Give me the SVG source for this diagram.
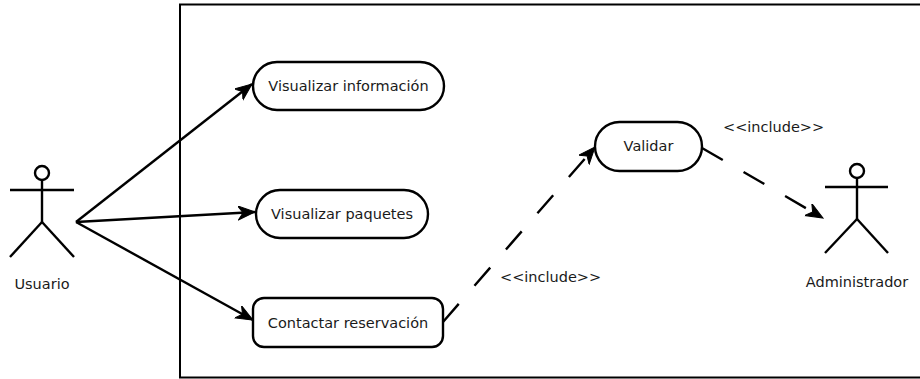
<svg xmlns="http://www.w3.org/2000/svg" width="920" height="379" viewBox="0 0 920 379">
  <style>
    .ln { fill: none; stroke: #000; stroke-width: 2.4; }
    .uc { fill: #fff; stroke: #000; stroke-width: 2.4; }
    .dash { fill: none; stroke: #000; stroke-width: 2.4; stroke-dasharray: 24 24; }
    text { font-family: "DejaVu Sans", Verdana, sans-serif; font-size: 14.5px; fill: #1a1a1a; }
    .c { text-anchor: middle; }
  </style>
  <defs>
    <marker id="arr" markerUnits="userSpaceOnUse" markerWidth="20" markerHeight="16" refX="17" refY="7" orient="auto">
      <path d="M0,0 L17,7 L0,14 L5,7 z" fill="#000" stroke="#000" stroke-width="1"/>
    </marker>
  </defs>
  <rect width="920" height="379" fill="#fff"/>
  <g id="system-boundary">
    <rect x="180" y="4.5" width="760" height="373" fill="none" stroke="#000" stroke-width="2"/>
  </g>
  <g id="connectors">
    <line class="ln" x1="76" y1="222" x2="252" y2="84" marker-end="url(#arr)"/>
    <line class="ln" x1="76" y1="222" x2="255" y2="212" marker-end="url(#arr)"/>
    <line class="ln" x1="76" y1="222" x2="253" y2="320" marker-end="url(#arr)"/>
    <line class="dash" x1="443" y1="322" x2="595" y2="147" marker-end="url(#arr)"/>
    <line class="dash" x1="702" y1="148" x2="823" y2="218" marker-end="url(#arr)"/>
    <text x="500" y="282">&lt;&lt;include&gt;&gt;</text>
    <text x="723" y="132">&lt;&lt;include&gt;&gt;</text>
  </g>
  <g id="actor-usuario">
    <circle class="ln" cx="42" cy="173" r="7"/>
    <line class="ln" x1="10" y1="190" x2="74" y2="190"/>
    <line class="ln" x1="42" y1="180" x2="42" y2="222"/>
    <line class="ln" x1="42" y1="222" x2="10" y2="257"/>
    <line class="ln" x1="42" y1="222" x2="74" y2="257"/>
    <text class="c" x="42" y="289">Usuario</text>
  </g>
  <g id="uc-visualizar-informacion">
    <rect class="uc" x="253" y="62" width="191" height="48" rx="24" ry="24"/>
    <text class="c" x="348.5" y="91">Visualizar información</text>
  </g>
  <g id="uc-visualizar-paquetes">
    <rect class="uc" x="256" y="190" width="172" height="48" rx="24" ry="24"/>
    <text class="c" x="342" y="219">Visualizar paquetes</text>
  </g>
  <g id="uc-contactar-reservacion">
    <rect class="uc" x="253" y="298" width="190" height="49" rx="11" ry="11"/>
    <text class="c" x="348" y="328">Contactar reservación</text>
  </g>
  <g id="uc-validar">
    <rect class="uc" x="595" y="122" width="107" height="49" rx="24.5" ry="24.5"/>
    <text class="c" x="648.5" y="151">Validar</text>
  </g>
  <g id="actor-administrador">
    <circle class="ln" cx="857" cy="171" r="7"/>
    <line class="ln" x1="825" y1="187" x2="888" y2="187"/>
    <line class="ln" x1="857" y1="178" x2="857" y2="219"/>
    <line class="ln" x1="857" y1="219" x2="825" y2="253"/>
    <line class="ln" x1="857" y1="219" x2="888" y2="253"/>
    <text class="c" x="857" y="287">Administrador</text>
  </g>
</svg>
